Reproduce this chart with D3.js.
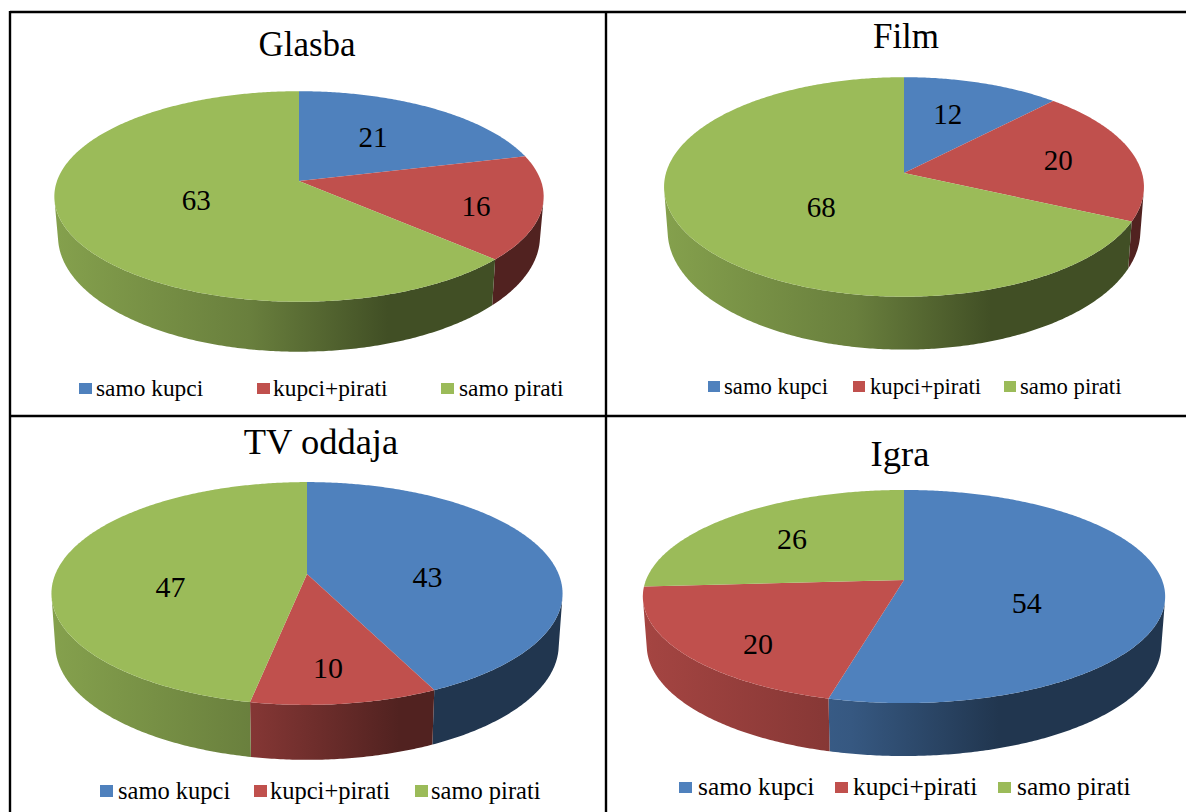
<!DOCTYPE html>
<html>
<head>
<meta charset="utf-8">
<script src="https://cdn.jsdelivr.net/npm/d3@7"></script>
<style>
  html, body { margin: 0; padding: 0; background: #fff; overflow: hidden; }
  text { font-family: "Liberation Serif", "Times New Roman", serif; fill: #000; }
</style>
</head>
<body>
<svg id="chart" width="1186" height="812"></svg>
<script>
// Series shared by the four tilted pies
const categories = ["samo kupci", "kupci+pirati", "samo pirati"];
const titles = ["Glasba", "Film", "TV oddaja", "Igra"];
const glasbaValues = [21, 16, 63];
const filmValues = [12, 20, 68];
const tvValues = [43, 10, 47];
const igraValues = [54, 20, 26];
const sliceColors = ["#4f81bd", "#c0504d", "#9bbb59"];

// Geometry of each panel: apex, radii, perspective strength and extrusion of the disc
const panels = [
  { title: titles[0], values: glasbaValues, cx: 299, ay: 181, rx: 242, ry: 103, k: 0.147,
    depth: 38.5, depthScale: 1.095, titleX: 307, titleY: 56, titleSize: 35,
    labelR: [0.53, 0.735, 0.45], labelDrop: [-3, 6, 0], labelSize: 29,
    legendSize: 23.4, legendY: 396, swatchX: [79, 257, 441], legendX: [96, 273, 459], swatchW: 13, swatchH: 11 },
  { title: titles[1], values: filmValues, cx: 904, ay: 173, rx: 238, ry: 108, k: 0.127,
    depth: 43, depthScale: 1.08, titleX: 906, titleY: 48, titleSize: 35,
    labelR: [0.53, 0.67, 0.4], labelDrop: [-9, 0, 10], labelSize: 29,
    legendSize: 22.7, legendY: 394, swatchX: [708, 853, 1004], legendX: [724, 870, 1020], swatchW: 12, swatchH: 11 },
  { title: titles[2], values: tvValues, cx: 307, ay: 574, rx: 251.6, ry: 108, k: 0.175,
    depth: 51, depthScale: 1.03, titleX: 321, titleY: 454, titleSize: 36.5,
    labelR: [0.5, 0.6, 0.55], labelDrop: [14, 22, 18], labelSize: 30,
    legendSize: 24.5, legendY: 799, swatchX: [100, 254, 415], legendX: [118, 270, 431], swatchW: 13, swatchH: 12 },
  { title: titles[3], values: igraValues, cx: 904, ay: 580, rx: 258, ry: 104, k: 0.155,
    depth: 48.4, depthScale: 1.037, titleX: 900, titleY: 466, titleSize: 36.5,
    labelR: [0.475, 0.685, 0.635], labelDrop: [16, 15, 1], labelSize: 30,
    legendSize: 25.4, legendY: 795, swatchX: [679, 835, 998], legendX: [698, 853, 1017], swatchW: 13, swatchH: 11 }
];

const svg = d3.select("#chart");
const defs = svg.append("defs");
const pie = d3.pie().sort(null).value(d => d);
const outline = d3.line();

// Side shading: bright on the left of the disc, darkest from about two thirds across
const shadeStops = [[0, 0.86], [0.4, 0.68], [0.68, 0.42], [1, 0.42]];

function project(p, theta, r) {
  const u = Math.sin(theta) * r, v = Math.cos(theta) * r;
  const s = 1 / (1 + p.k * v);
  return [p.cx + p.rx * u * s, p.ay - p.ry * v * s];
}

function lowerRim(p, point) {
  return [p.cx + (point[0] - p.cx) * 0.985, p.ay + p.depth + (point[1] - p.ay) * p.depthScale];
}

function arcPoints(p, a0, a1) {
  const steps = Math.max(4, Math.ceil((a1 - a0) / 0.01));
  return d3.range(steps + 1).map(i => project(p, a0 + (a1 - a0) * i / steps, 1));
}

// Outline of the rim under one slice: only the quads that face the viewer are kept,
// so the part behind the disc and the fold at each silhouette never fill wrongly
function sidePath(p, d) {
  const top = arcPoints(p, d.startAngle, d.endAngle);
  return d3.pairs(top)
    .map(([a, b]) => [a, b, lowerRim(p, b), lowerRim(p, a)])
    .filter(quad => d3.polygonArea(quad) > 0)
    .map(quad => outline(quad) + "Z")
    .join("");
}

panels.forEach((p, pi) => {
  const slices = pie(p.values);
  const halfWidth = p.rx * 1.02;

  sliceColors.forEach((color, ci) => {
    const grad = defs.append("linearGradient")
      .attr("id", `side-${pi}-${ci}`)
      .attr("gradientUnits", "userSpaceOnUse")
      .attr("x1", p.cx - halfWidth).attr("x2", p.cx + halfWidth)
      .attr("y1", 0).attr("y2", 0);
    shadeStops.forEach(([offset, factor]) => {
      const c = d3.rgb(color);
      grad.append("stop").attr("offset", offset)
        .attr("stop-color", d3.rgb(c.r * factor, c.g * factor, c.b * factor).formatHex());
    });
  });

  const g = svg.append("g");

  g.selectAll("path.side").data(slices).join("path")
    .attr("class", "side")
    .attr("fill", (d, i) => `url(#side-${pi}-${i})`)
    .attr("d", d => sidePath(p, d));

  // Top faces, wedges running from the apex
  g.selectAll("path.face").data(slices).join("path")
    .attr("class", "face")
    .attr("fill", (d, i) => sliceColors[i])
    .attr("d", d => outline([[p.cx, p.ay]].concat(arcPoints(p, d.startAngle, d.endAngle))) + "Z");

  g.selectAll("text.value").data(slices).join("text")
    .attr("class", "value")
    .attr("text-anchor", "middle")
    .attr("dominant-baseline", "central")
    .attr("font-size", p.labelSize)
    .attr("x", (d, i) => project(p, (d.startAngle + d.endAngle) / 2, p.labelR[i])[0])
    .attr("y", (d, i) => project(p, (d.startAngle + d.endAngle) / 2, p.labelR[i])[1] + p.labelDrop[i])
    .text(d => d.data);

  g.append("text")
    .attr("text-anchor", "middle")
    .attr("x", p.titleX).attr("y", p.titleY)
    .attr("font-size", p.titleSize)
    .text(p.title);

  g.selectAll("rect.swatch").data(categories).join("rect")
    .attr("class", "swatch")
    .attr("x", (d, i) => p.swatchX[i])
    .attr("y", p.legendY - p.swatchH - 2)
    .attr("width", p.swatchW).attr("height", p.swatchH)
    .attr("fill", (d, i) => sliceColors[i]);

  g.selectAll("text.entry").data(categories).join("text")
    .attr("class", "entry")
    .attr("x", (d, i) => p.legendX[i])
    .attr("y", p.legendY)
    .attr("font-size", p.legendSize)
    .text(d => d);
});

// Ruled table around the panels; it runs off the right and bottom of the page
const rules = [
  [[10, 12], [1186, 12]],
  [[10, 416], [1186, 416]],
  [[10, 11], [10, 812]],
  [[606, 12], [606, 812]]
];
svg.selectAll("path.rule").data(rules).join("path")
  .attr("class", "rule")
  .attr("d", d => outline(d))
  .attr("stroke", "#000").attr("stroke-width", 2.4).attr("fill", "none");
</script>
</body>
</html>
